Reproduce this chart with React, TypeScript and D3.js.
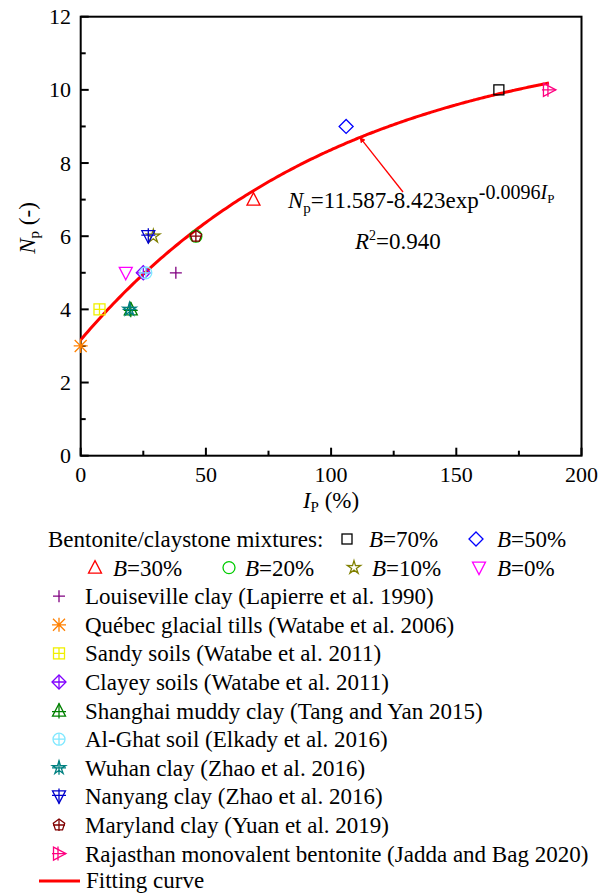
import React from "react";
import * as d3 from "d3";

// ---------- data ----------
type Sym =
  | "square" | "diamond" | "triUp" | "circle" | "star" | "triDown"
  | "plus" | "asterisk" | "squarePlus" | "diamondPlus" | "triUpPlus"
  | "circlePlus" | "starPlus" | "triDownPlus" | "pentagonPlus" | "triRightPlus";

const mixtureLabels = ["B=70%", "B=50%", "B=30%", "B=20%", "B=10%", "B=0%"];
const mixtureSymbols: Sym[] = ["square", "diamond", "triUp", "circle", "star", "triDown"];
const mixtureColors = ["#000000", "#0000ff", "#ff0000", "#00cc00", "#808000", "#ff00ff"];
const mixtureIp = [167, 106, 69, 46, 29, 18];
const mixtureNp = [10, 9, 7, 6, 6, 5];

const soilLabels = [
  "Louiseville clay (Lapierre et al. 1990)",
  "Québec glacial tills (Watabe et al. 2006)",
  "Sandy soils (Watabe et al. 2011)",
  "Clayey soils (Watabe et al. 2011)",
  "Shanghai muddy clay (Tang and Yan 2015)",
  "Al-Ghat soil (Elkady et al. 2016)",
  "Wuhan clay (Zhao et al. 2016)",
  "Nanyang clay (Zhao et al. 2016)",
  "Maryland clay (Yuan et al. 2019)",
  "Rajasthan monovalent bentonite (Jadda and Bag 2020)",
];
const soilSymbols: Sym[] = [
  "plus", "asterisk", "squarePlus", "diamondPlus", "triUpPlus",
  "circlePlus", "starPlus", "triDownPlus", "pentagonPlus", "triRightPlus",
];
const soilColors = [
  "#800080", "#ff8000", "#f0f000", "#8000ff", "#008000",
  "#80e8ff", "#008080", "#0000cc", "#800000", "#ff0080",
];
const soilIp = [38, 0, 7.5, 25, 20, 26, 19.5, 27, 46, 187];
const soilNp = [5, 3, 4, 5, 4, 5, 4, 6, 6, 10];

// fitted curve Np = a - b * exp(c * Ip)
const fitA = 11.587;
const fitB = 8.423;
const fitC = -0.0096;
const fitRange = [0, 187];

const xTicks = [0, 50, 100, 150, 200];
const yTicks = [0, 2, 4, 6, 8, 10, 12];

// ---------- layout ----------
const W = 598, H = 895;
const L = 80.7, R = 581.5, T = 16.7, B = 455.7;
const FONT = "'Liberation Serif', 'Times New Roman', serif";

const x = d3.scaleLinear().domain([0, 200]).range([L, R]);
const y = d3.scaleLinear().domain([0, 12]).range([B, T]);

function Marker({ type, cx, cy, color }: { type: Sym; cx: number; cy: number; color: string }) {
  const s = 6;
  const common = { fill: "none", stroke: color, strokeWidth: 1.3 };
  const plus = (r: number) => (
    <path d={`M${-r},0H${r}M0,${-r}V${r}`} {...common} />
  );
  let el: React.ReactNode = null;
  const tri = (pts: number[][]) => (
    <polygon points={pts.map((p) => p.join(",")).join(" ")} {...common} />
  );
  const up = [[0, -s - 1], [s + 0.5, s - 0.5], [-s - 0.5, s - 0.5]];
  const down = [[0, s + 1], [s + 0.5, -s + 0.5], [-s - 0.5, -s + 0.5]];
  const right = [[s + 1, 0], [-s + 0.5, -s - 0.5], [-s + 0.5, s + 0.5]];
  const starPts = d3.range(10).map((i) => {
    const r = i % 2 === 0 ? s + 1 : s * 0.42;
    const a = (Math.PI / 5) * i - Math.PI / 2;
    return [r * Math.cos(a), r * Math.sin(a)];
  });
  const pent = d3.range(5).map((i) => {
    const a = ((2 * Math.PI) / 5) * i - Math.PI / 2;
    return [s * Math.cos(a), s * Math.sin(a)];
  });
  switch (type) {
    case "square":
      el = <rect x={-5} y={-5} width={10} height={10} {...common} />;
      break;
    case "diamond":
      el = <path d={`M0,${-s - 1}L${s + 1},0L0,${s + 1}L${-s - 1},0Z`} {...common} />;
      break;
    case "triUp":
      el = tri(up);
      break;
    case "circle":
      el = <circle r={s} {...common} />;
      break;
    case "star":
      el = tri(starPts);
      break;
    case "triDown":
      el = tri(down);
      break;
    case "plus":
      el = plus(s);
      break;
    case "asterisk":
      el = (
        <path
          d={`M0,${-s - 1}V${s + 1}M${-s - 1},0H${s + 1}M${-s},${-s}L${s},${s}M${-s},${s}L${s},${-s}`}
          {...common}
        />
      );
      break;
    case "squarePlus":
      el = (<>
        <rect x={-5.5} y={-5.5} width={11} height={11} {...common} />
        {plus(5.5)}
      </>);
      break;
    case "diamondPlus":
      el = (<>
        <path d={`M0,${-s - 1}L${s + 1},0L0,${s + 1}L${-s - 1},0Z`} {...common} />
        {plus(s + 1)}
      </>);
      break;
    case "triUpPlus":
      el = (<>
        {tri(up)}
        <path d={`M0,${-s - 1}V${s + 2}M${-s - 1},1H${s + 1}`} {...common} />
      </>);
      break;
    case "circlePlus":
      el = (<>
        <circle r={s} {...common} />
        {plus(s)}
      </>);
      break;
    case "starPlus":
      el = (<>
        {tri(starPts)}
        {plus(s + 1)}
      </>);
      break;
    case "triDownPlus":
      el = (<>
        {tri(down)}
        <path d={`M0,${-s - 2}V${s + 1}M${-s - 1},-1H${s + 1}`} {...common} />
      </>);
      break;
    case "pentagonPlus":
      el = (<>
        {tri(pent)}
        {plus(s)}
      </>);
      break;
    case "triRightPlus":
      el = (<>
        {tri(right)}
        <path d={`M${-s - 1},0H${s + 1}M${-1},${-s - 1}V${s + 1}`} {...common} />
      </>);
      break;
  }
  return <g transform={`translate(${cx},${cy})`}>{el}</g>;
}

export default function App() {
  const fitPts = d3.range(fitRange[0], fitRange[1] + 0.001, 1).map((v) => [v, fitA - fitB * Math.exp(fitC * v)]);
  const line = d3.line<number[]>().x((d) => x(d[0])).y((d) => y(d[1])).curve(d3.curveMonotoneX);

  const minorX = d3.range(25, 200, 50);
  const minorY = d3.range(1, 12, 2);

  // arrow: from annotation to curve point
  const arrowIp = 111.5;
  const ax2 = x(arrowIp);
  const ay2 = y(fitA - fitB * Math.exp(fitC * arrowIp));
  const ax1 = 403, ay1 = 192;

  const legendRow0 = 539;
  const rowH = 28.6;

  return (
    <svg
      width={W}
      height={H}
      style={{ position: "absolute", left: 0, top: 0, background: "#fff" }}
      fontFamily={FONT}
    >
      <defs>
        <marker id="ah" viewBox="0 0 10 10" refX="9" refY="5" markerWidth="4.5" markerHeight="4.5" orient="auto">
          <path d="M0,0L10,5L0,10Z" fill="#ff0000" />
        </marker>
      </defs>

      {/* frame */}
      <rect x={L} y={T} width={R - L} height={B - T} fill="none" stroke="#000" strokeWidth={2} />

      {/* x ticks */}
      {xTicks.map((t) => (
        <g key={"xt" + t}>
          <line x1={x(t)} x2={x(t)} y1={B} y2={B - 8} stroke="#000" strokeWidth={2} />
          <text x={x(t)} y={482} fontSize={22} textAnchor="middle" fill="#000">{t}</text>
        </g>
      ))}
      {minorX.map((t) => (
        <line key={"xm" + t} x1={x(t)} x2={x(t)} y1={B} y2={B - 5} stroke="#000" strokeWidth={2} />
      ))}
      {/* y ticks */}
      {yTicks.map((t) => (
        <g key={"yt" + t}>
          <line x1={L} x2={L + 8} y1={y(t)} y2={y(t)} stroke="#000" strokeWidth={2} />
          <text x={71} y={y(t) + 7.5} fontSize={22} textAnchor="end" fill="#000">{t}</text>
        </g>
      ))}
      {minorY.map((t) => (
        <line key={"ym" + t} x1={L} x2={L + 5} y1={y(t)} y2={y(t)} stroke="#000" strokeWidth={2} />
      ))}

      {/* axis titles */}
      <text x={331} y={508} fontSize={23} textAnchor="middle">
        <tspan fontStyle="italic">I</tspan>
        <tspan fontSize={15} dy={4}>P</tspan>
        <tspan dy={-4}> (%)</tspan>
      </text>
      <text transform="translate(35,228) rotate(-90)" fontSize={23} textAnchor="middle">
        <tspan fontStyle="italic">N</tspan>
        <tspan fontSize={15} dy={4}>p</tspan>
        <tspan dy={-4}> (-)</tspan>
      </text>

      {/* fitting curve */}
      <path d={line(fitPts) || ""} fill="none" stroke="#ff0000" strokeWidth={3} />

      {/* data markers */}
      {mixtureIp.map((v, i) => (
        <Marker key={"m" + i} type={mixtureSymbols[i]} cx={x(v)} cy={y(mixtureNp[i])} color={mixtureColors[i]} />
      ))}
      {soilIp.map((v, i) => (
        <Marker key={"s" + i} type={soilSymbols[i]} cx={x(v)} cy={y(soilNp[i])} color={soilColors[i]} />
      ))}

      {/* annotation */}
      <line x1={ax1} y1={ay1} x2={ax2} y2={ay2} stroke="#ff0000" strokeWidth={1.3} markerEnd="url(#ah)" />
      <text x={288} y={208} fontSize={23} fill="#000">
        <tspan fontStyle="italic">N</tspan>
        <tspan fontSize={15} dy={5}>p</tspan>
        <tspan dy={-5}>=11.587-8.423exp</tspan>
        <tspan fontSize={20} dy={-9}>-0.0096</tspan>
        <tspan fontSize={20} fontStyle="italic">I</tspan>
        <tspan fontSize={13} dy={4}>P</tspan>
      </text>
      <text x={355} y={249} fontSize={23} fill="#000">
        <tspan fontStyle="italic">R</tspan>
        <tspan fontSize={14} dy={-9}>2</tspan>
        <tspan dy={9}>=0.940</tspan>
      </text>

      {/* legend */}
      <g fontSize={23} fill="#000">
        <text x={48} y={legendRow0 + 8}>Bentonite/claystone mixtures:</text>
        {[
          { i: 0, sx: 347, tx: 369, row: 0 },
          { i: 1, sx: 476, tx: 497, row: 0 },
          { i: 2, sx: 95, tx: 113, row: 1 },
          { i: 3, sx: 229, tx: 245, row: 1 },
          { i: 4, sx: 354, tx: 372, row: 1 },
          { i: 5, sx: 479, tx: 497, row: 1 },
        ].map(({ i, sx, tx, row }) => {
          const cy = legendRow0 + row * rowH;
          return (
            <g key={"lm" + i}>
              <Marker type={mixtureSymbols[i]} cx={sx} cy={cy} color={mixtureColors[i]} />
              <text x={tx} y={cy + 8}>
                <tspan fontStyle="italic">B</tspan>
                {mixtureLabels[i].slice(1)}
              </text>
            </g>
          );
        })}
        {soilLabels.map((lab, i) => {
          const cy = legendRow0 + (i + 2) * rowH;
          return (
            <g key={"ls" + i}>
              <Marker type={soilSymbols[i]} cx={59} cy={cy} color={soilColors[i]} />
              <text x={85} y={cy + 8}>{lab}</text>
            </g>
          );
        })}
        <line x1={39} x2={80} y1={881} y2={881} stroke="#ff0000" strokeWidth={3} />
        <text x={86} y={888}>Fitting curve</text>
      </g>
    </svg>
  );
}
